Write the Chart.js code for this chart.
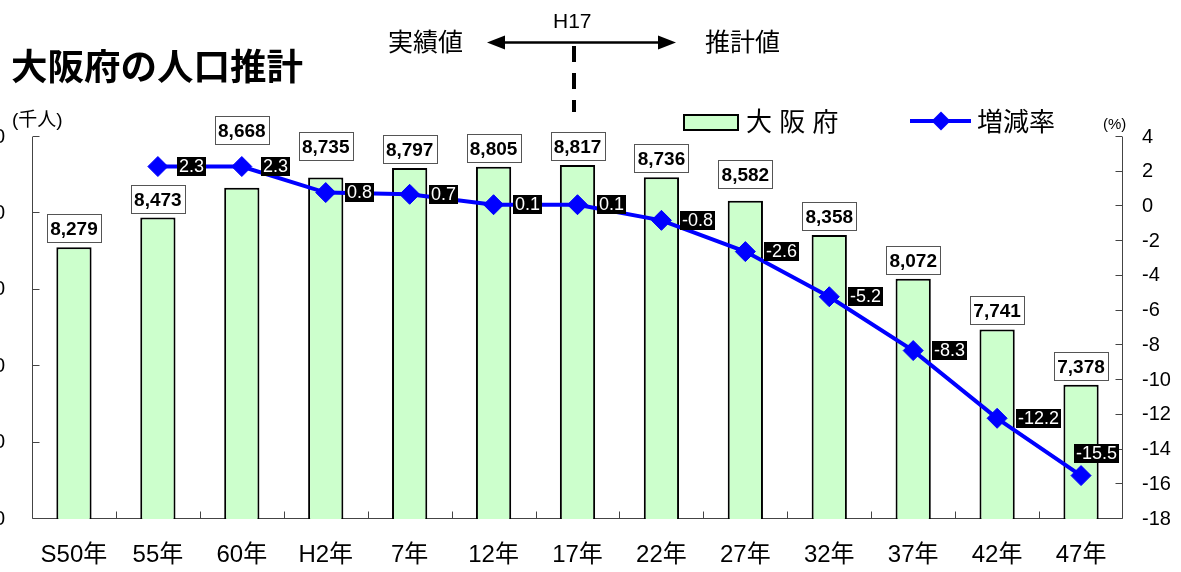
<!DOCTYPE html>
<html>
<head>
<meta charset="utf-8">
<script src="https://cdn.jsdelivr.net/npm/chart.js@4/dist/chart.umd.min.js"></script>
<style>
  html, body { margin: 0; padding: 0; background: #fff; overflow: hidden; }
  #wrap { position: relative; width: 1181px; height: 572px; overflow: hidden; }
  #chart { position: absolute; left: -60px; top: 0; }
  .t { position: absolute; white-space: nowrap; color: #000; line-height: 1;
       font-family: "Liberation Sans", Arial, "Noto Sans CJK JP", sans-serif; }
  svg { position: absolute; left: 0; top: 0; }
</style>
</head>
<body>
<div id="wrap">
  <canvas id="chart" width="1241" height="572" style="width:1241px;height:572px"></canvas>

  <div class="t" style="left:11px; top:50px; font-size:36.5px; font-weight:bold;">大阪府の人口推計</div>
  <div class="t" style="left:12px; top:110px; font-size:19px;">(千人)</div>

  <div class="t" style="left:553px; top:10px; font-size:21px;">H17</div>
  <div class="t" style="left:388px; top:30px; font-size:25px;">実績値</div>
  <div class="t" style="left:705px; top:30px; font-size:25px;">推計値</div>

  <svg width="1181" height="140" viewBox="0 0 1181 140">
    <!-- boundary between recorded and projected values -->
    <line x1="500" y1="42.5" x2="663" y2="42.5" stroke="#000" stroke-width="2.5"/>
    <polygon points="487,42.5 505,35.5 505,49.5" fill="#000"/>
    <polygon points="676,42.5 658,35.5 658,49.5" fill="#000"/>
    <line x1="574" y1="46" x2="574" y2="112" stroke="#000" stroke-width="4" stroke-dasharray="16 11"/>
    <!-- legend swatches -->
    <rect x="684" y="115" width="54" height="15" fill="#CCFFCC" stroke="#000" stroke-width="2"/>
    <line x1="910" y1="121" x2="971" y2="121" stroke="#0000FF" stroke-width="4"/>
    <polygon points="931.5,121 941,111.5 950.5,121 941,130.5" fill="#0000FF"/>
  </svg>
  <div class="t" style="left:746px; top:109px; font-size:26px;">大 阪 府</div>
  <div class="t" style="left:977px; top:109px; font-size:26px;">増減率</div>
  <div class="t" style="left:1103px; top:116px; font-size:15px;">(%)</div>
</div>

<script>
// Osaka prefecture population (thousands) and change rate (%)
const categories = ['S50年', '55年', '60年', 'H2年', '7年', '12年', '17年', '22年', '27年', '32年', '37年', '42年', '47年'];
const population = [8279, 8473, 8668, 8735, 8797, 8805, 8817, 8736, 8582, 8358, 8072, 7741, 7378];
const changeRate = [null, 2.3, 2.3, 0.8, 0.7, 0.1, 0.1, -0.8, -2.6, -5.2, -8.3, -12.2, -15.5];
const populationTicks = [6500, 7000, 7500, 8000, 8500, 9000];
const rateTicks = [-18, -16, -14, -12, -10, -8, -6, -4, -2, 0, 2, 4];

const FONT = '"Liberation Sans", Arial, "Noto Sans CJK JP", sans-serif';
const AXIS_COLOR = '#444';

// extra upward shift of some value boxes so they clear the rate line
const boxLift = { 2: 39, 3: 12, 8: 8 };

const axesAndLabels = {
  id: 'axesAndLabels',
  beforeDatasetsDraw(chart) {
    const { ctx, chartArea: a, scales } = chart;
    ctx.save();
    ctx.strokeStyle = AXIS_COLOR;
    ctx.lineWidth = 1;
    ctx.beginPath();
    const L = Math.round(a.left) + 0.5, R = Math.round(a.right) - 0.5, B = Math.round(a.bottom) - 0.5;
    ctx.moveTo(L, a.top); ctx.lineTo(L, B); ctx.lineTo(R, B); ctx.lineTo(R, a.top);
    // inward tick marks on the left axis
    scales.y.ticks.forEach(t => {
      const y = Math.round(scales.y.getPixelForValue(t.value)) - 0.5;
      ctx.moveTo(L, y); ctx.lineTo(L + 7, y);
    });
    // inward tick marks on the right axis
    scales.y2.ticks.forEach(t => {
      const y = Math.round(scales.y2.getPixelForValue(t.value)) - 0.5;
      ctx.moveTo(R - 7, y); ctx.lineTo(R, y);
    });
    // category separators on the x axis
    for (let i = 1; i < categories.length; i++) {
      const x = Math.round((scales.x.getPixelForValue(i - 1) + scales.x.getPixelForValue(i)) / 2) + 0.5;
      ctx.moveTo(x, B); ctx.lineTo(x, B - 7);
    }
    ctx.stroke();
    ctx.restore();
  },
  afterDatasetsDraw(chart) {
    const { ctx } = chart;
    ctx.save();
    // population value boxes
    const bars = chart.getDatasetMeta(0).data;
    ctx.font = 'bold 19px ' + FONT;
    ctx.textAlign = 'center';
    ctx.textBaseline = 'middle';
    bars.forEach((el, i) => {
      const text = population[i].toLocaleString('en-US');
      const w = Math.round(ctx.measureText(text).width) + 6;
      const h = 28;
      const bottom = el.y - 5 - (boxLift[i] || 0);
      const left = Math.round(el.x - w / 2) + 0.5;
      const top = Math.round(bottom - h) + 0.5;
      ctx.fillStyle = '#fff';
      ctx.fillRect(left, top, w, h);
      ctx.strokeStyle = '#555';
      ctx.lineWidth = 1;
      ctx.strokeRect(left, top, w, h);
      ctx.fillStyle = '#000';
      ctx.fillText(text, el.x, top + h / 2 + 1);
    });
    // change-rate value boxes
    const pts = chart.getDatasetMeta(1).data;
    ctx.font = '18px ' + FONT;
    pts.forEach((el, i) => {
      if (changeRate[i] === null) return;
      const text = changeRate[i].toFixed(1);
      const w = Math.round(ctx.measureText(text).width) + 4;
      const h = 19;
      let left, top;
      if (i === pts.length - 1) {
        left = el.x + 15 - w / 2;
        top = el.y - 13 - h;
      } else {
        left = el.x + 19;
        top = el.y - h / 2;
      }
      left = Math.round(left); top = Math.round(top);
      ctx.fillStyle = '#000';
      ctx.fillRect(left, top, w, h);
      ctx.fillStyle = '#fff';
      ctx.fillText(text, left + w / 2, top + h / 2 + 1);
    });
    ctx.restore();
  }
};

new Chart(document.getElementById('chart'), {
  data: {
    labels: categories,
    datasets: [
      {
        type: 'bar',
        label: '大 阪 府',
        data: population,
        yAxisID: 'y',
        backgroundColor: '#CCFFCC',
        borderColor: '#000',
        borderWidth: 2,
        barPercentage: 0.42,
        categoryPercentage: 1,
        order: 2
      },
      {
        type: 'line',
        label: '増減率',
        data: changeRate,
        yAxisID: 'y2',
        borderColor: '#0000FF',
        backgroundColor: '#0000FF',
        borderWidth: 4,
        tension: 0,
        pointStyle: 'rectRot',
        pointRadius: 10,
        pointBorderWidth: 1,
        pointBorderColor: '#0000FF',
        pointBackgroundColor: '#0000FF',
        order: 1
      }
    ]
  },
  options: {
    responsive: false,
    animation: false,
    devicePixelRatio: 1,
    layout: { padding: { top: 137, left: 0, right: 0, bottom: 0 } },
    plugins: { legend: { display: false }, tooltip: { enabled: false } },
    scales: {
      x: {
        grid: { display: false, drawTicks: false },
        border: { display: false },
        ticks: { color: '#000', font: { family: FONT, size: 24 }, padding: 22, maxRotation: 0, autoSkip: false },
        afterFit(s) { s.height = 53; }
      },
      y: {
        position: 'left',
        min: populationTicks[0],
        max: populationTicks[populationTicks.length - 1],
        afterBuildTicks(s) { s.ticks = populationTicks.map(v => ({ value: v })); },
        grid: { display: false, drawTicks: false },
        border: { display: false },
        ticks: {
          color: '#000', font: { family: FONT, size: 20 }, padding: 27,
          callback: v => Number(v).toLocaleString('en-US')
        },
        afterFit(s) { s.width = 92; }
      },
      y2: {
        position: 'right',
        min: rateTicks[0],
        max: rateTicks[rateTicks.length - 1],
        afterBuildTicks(s) { s.ticks = rateTicks.map(v => ({ value: v })); },
        grid: { display: false, drawTicks: false },
        border: { display: false },
        ticks: { color: '#000', font: { family: FONT, size: 20 }, padding: 19 },
        afterFit(s) { s.width = 58; }
      }
    }
  },
  plugins: [axesAndLabels]
});
</script>
</body>
</html>
